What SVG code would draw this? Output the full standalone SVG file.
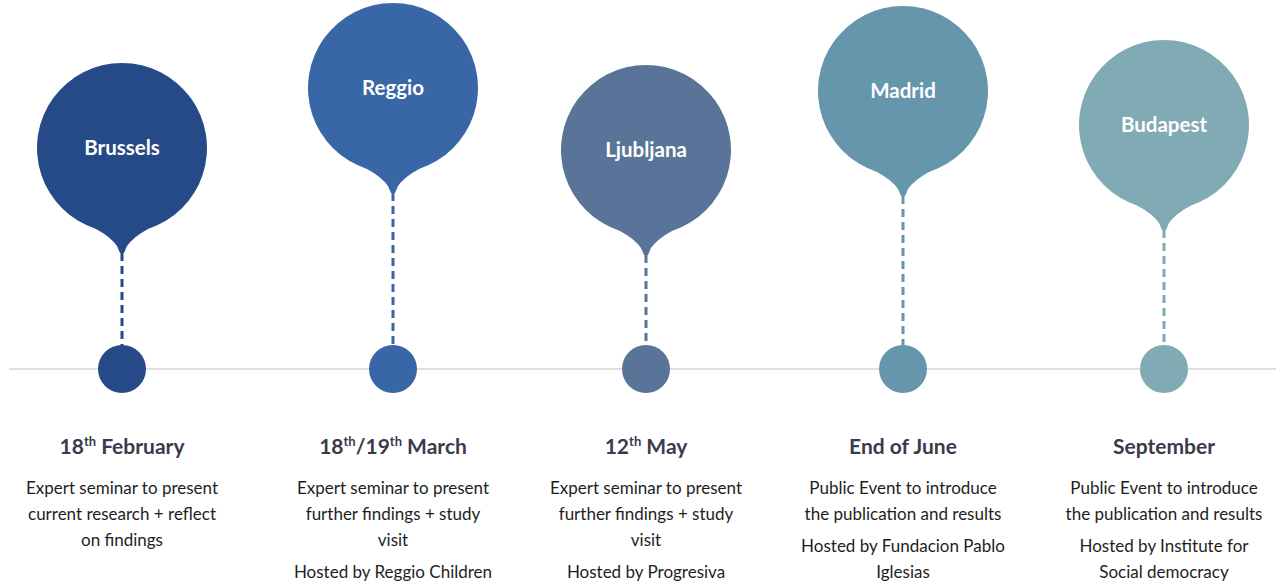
<svg xmlns="http://www.w3.org/2000/svg" width="1277" height="584" viewBox="0 0 1277 584">
<style>
.city{font-family:Lato,"Open Sans",sans-serif;font-weight:700;font-size:20.5px;fill:#ffffff;text-anchor:middle}
.date{font-family:Lato,"Open Sans",sans-serif;font-weight:700;font-size:21px;fill:#3a3a4c;text-anchor:middle}
.sup{font-size:13px}
.desc{font-family:Lato,"Open Sans",sans-serif;font-size:17px;fill:#1e1e1e;text-anchor:middle}
.dash{stroke-width:3;stroke-dasharray:8 5;fill:none}
</style>
<defs>
<path id="pin" d="M-26,80.9 A85,85 0 1 1 26,80.9 Q11,89 5,98 L2,105 L-2,105 L-5,98 Q-11,89 -26,80.9 Z"/>
</defs>
<g id="connectors">
<line x1="9" y1="369" x2="1276" y2="369" stroke="#d6d6d6" stroke-width="1.5"/>
<line class="dash" x1="122" y1="253" x2="122" y2="346" stroke="#264a87"/>
<line class="dash" x1="393" y1="193" x2="393" y2="346" stroke="#3966a6"/>
<line class="dash" x1="646" y1="255" x2="646" y2="346" stroke="#5a7499"/>
<line class="dash" x1="903" y1="196" x2="903" y2="346" stroke="#6696ab"/>
<line class="dash" x1="1164" y1="230" x2="1164" y2="346" stroke="#80aab4"/>
</g>
<g id="brussels">
<use href="#pin" x="122" y="148" fill="#264a87"/>
<text class="city" x="122" y="155">Brussels</text>
<circle cx="122" cy="369" r="24" fill="#264a87"/>
<text class="date" x="122" y="454">18<tspan class="sup" dy="-8">th</tspan><tspan dy="8"> February</tspan></text>
<text class="desc" x="122" y="494">Expert seminar to present</text>
<text class="desc" x="122" y="520">current research + reflect</text>
<text class="desc" x="122" y="546">on findings</text>
</g>
<g id="reggio">
<use href="#pin" x="393" y="88" fill="#3966a6"/>
<text class="city" x="393" y="95">Reggio</text>
<circle cx="393" cy="369" r="24" fill="#3966a6"/>
<text class="date" x="393" y="454">18<tspan class="sup" dy="-8">th</tspan><tspan dy="8">/19</tspan><tspan class="sup" dy="-8">th</tspan><tspan dy="8"> March</tspan></text>
<text class="desc" x="393" y="494">Expert seminar to present</text>
<text class="desc" x="393" y="520">further findings + study</text>
<text class="desc" x="393" y="546">visit</text>
<text class="desc" x="393" y="578">Hosted by Reggio Children</text>
</g>
<g id="ljubljana">
<use href="#pin" x="646" y="150" fill="#5a7499"/>
<text class="city" x="646" y="157">Ljubljana</text>
<circle cx="646" cy="369" r="24" fill="#5a7499"/>
<text class="date" x="646" y="454">12<tspan class="sup" dy="-8">th</tspan><tspan dy="8"> May</tspan></text>
<text class="desc" x="646" y="494">Expert seminar to present</text>
<text class="desc" x="646" y="520">further findings + study</text>
<text class="desc" x="646" y="546">visit</text>
<text class="desc" x="646" y="578">Hosted by Progresiva</text>
</g>
<g id="madrid">
<use href="#pin" x="903" y="91" fill="#6696ab"/>
<text class="city" x="903" y="98">Madrid</text>
<circle cx="903" cy="369" r="24" fill="#6696ab"/>
<text class="date" x="903" y="454">End of June</text>
<text class="desc" x="903" y="494">Public Event to introduce</text>
<text class="desc" x="903" y="520">the publication and results</text>
<text class="desc" x="903" y="552">Hosted by Fundacion Pablo</text>
<text class="desc" x="903" y="578">Iglesias</text>
</g>
<g id="budapest">
<use href="#pin" x="1164" y="125" fill="#80aab4"/>
<text class="city" x="1164" y="132">Budapest</text>
<circle cx="1164" cy="369" r="24" fill="#80aab4"/>
<text class="date" x="1164" y="454">September</text>
<text class="desc" x="1164" y="494">Public Event to introduce</text>
<text class="desc" x="1164" y="520">the publication and results</text>
<text class="desc" x="1164" y="552">Hosted by Institute for</text>
<text class="desc" x="1164" y="578">Social democracy</text>
</g>
</svg>
